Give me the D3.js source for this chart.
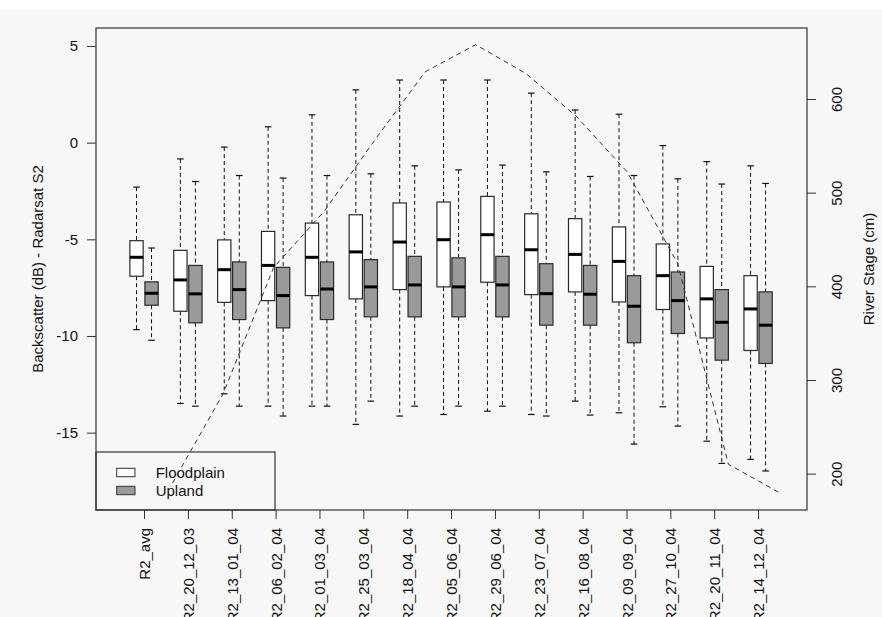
<!DOCTYPE html>
<html>
<head>
<meta charset="utf-8">
<script src="https://cdn.jsdelivr.net/npm/d3@7"></script>
<style>
  body { margin: 0; background: #f7f7f7; }
  text { font-family: "Liberation Sans", Arial, sans-serif; }
</style>
</head>
<body>
<svg id="chart" width="882" height="617"></svg>
<script>
// Acquisition dates (Radarsat-2 scenes) shown along the x axis
const categories = ["R2_avg", "R2_20_12_03", "R2_13_01_04", "R2_06_02_04", "R2_01_03_04",
  "R2_25_03_04", "R2_18_04_04", "R2_05_06_04", "R2_29_06_04", "R2_23_07_04",
  "R2_16_08_04", "R2_09_09_04", "R2_27_10_04", "R2_20_11_04", "R2_14_12_04"];

// Floodplain backscatter (dB): whisker low, Q1, median, Q3, whisker high
const floodLow  = [-9.67, -13.49, -12.99, -13.63, -13.63, -14.57, -14.14, -14.06, -13.89, -14.06, -13.37, -13.97, -13.66, -15.44, -16.38];
const floodQ1   = [-6.91, -8.72, -8.26, -8.17, -7.91, -8.08, -7.60, -7.46, -7.22, -7.86, -7.72, -8.24, -8.63, -10.10, -10.75];
const floodMed  = [-5.93, -7.10, -6.57, -6.35, -5.93, -5.65, -5.14, -5.02, -4.76, -5.54, -5.78, -6.14, -6.88, -8.08, -8.60];
const floodQ3   = [-5.07, -5.57, -5.03, -4.59, -4.16, -3.73, -3.12, -3.07, -2.78, -3.68, -3.93, -4.36, -5.24, -6.40, -6.88];
const floodHigh = [-2.30, -0.84, -0.23, 0.82, 1.44, 2.73, 3.24, 3.24, 3.24, 2.56, 1.69, 1.47, -0.15, -0.98, -1.20];

// Upland backscatter (dB)
const uplandLow  = [-10.22, -13.63, -13.63, -14.14, -13.63, -13.37, -13.63, -13.63, -13.63, -14.14, -14.09, -15.59, -14.66, -16.59, -16.98];
const uplandQ1   = [-8.41, -9.32, -9.15, -9.58, -9.15, -9.01, -9.01, -9.01, -9.01, -9.44, -9.44, -10.35, -9.87, -11.25, -11.42];
const uplandMed  = [-7.79, -7.82, -7.60, -7.91, -7.57, -7.46, -7.36, -7.46, -7.36, -7.81, -7.84, -8.46, -8.17, -9.29, -9.44];
const uplandQ3   = [-7.20, -6.35, -6.17, -6.45, -6.17, -6.05, -5.88, -5.96, -5.88, -6.26, -6.35, -6.88, -6.69, -7.60, -7.72];
const uplandHigh = [-5.45, -2.01, -1.70, -1.83, -1.70, -1.61, -1.20, -1.41, -1.16, -1.51, -1.75, -1.70, -1.87, -2.14, -2.11];

// Monthly river stage (cm)
const stageMonths = ["2003-12", "2004-01", "2004-02", "2004-03", "2004-04", "2004-05", "2004-06",
  "2004-07", "2004-08", "2004-09", "2004-10", "2004-11", "2004-12"];
const stageCm = [190, 285, 420, 480, 556, 629, 658, 627, 581, 522, 424, 210, 180];

const leftTicks = [5, 0, -5, -10, -15];
const rightTicks = [200, 300, 400, 500, 600];
const seriesNames = ["Floodplain", "Upland"];
const seriesFills = ["#ffffff", "#9a9a9a"];

const W = 882, H = 617;
const plot = { left: 96, right: 807, top: 28, bottom: 510 };
const FONT = 15;

const svg = d3.select("#chart");
svg.append("rect").attr("width", W).attr("height", H).attr("fill", "#f7f7f7");
svg.append("rect").attr("width", W).attr("height", 10).attr("fill", "#ffffff");

// Scales
const x = d3.scaleLinear().domain([-1.095, 15.115]).range([plot.left, plot.right]);
const y = d3.scaleLinear().domain([-19.0, 5.93]).range([plot.bottom, plot.top]);
const xStage = d3.scaleLinear().domain([-1.514, 12.556]).range([plot.left, plot.right]);
const yStage = d3.scaleLinear().domain([161.2, 675.8]).range([plot.bottom, plot.top]);

const series = [
  { name: seriesNames[0], fill: seriesFills[0], offset: -0.171,
    low: floodLow, q1: floodQ1, med: floodMed, q3: floodQ3, high: floodHigh },
  { name: seriesNames[1], fill: seriesFills[1], offset: 0.171,
    low: uplandLow, q1: uplandQ1, med: uplandMed, q3: uplandQ3, high: uplandHigh }
];

const boxW = x(0.303) - x(0);
const capW = boxW / 2;

// Boxplots
const gBoxes = svg.append("g");
series.forEach(s => {
  categories.forEach((c, i) => {
    const cx = x(i + s.offset);
    const g = gBoxes.append("g");
    // whiskers
    g.append("line").attr("x1", cx).attr("x2", cx).attr("y1", y(s.high[i])).attr("y2", y(s.q3[i]))
      .attr("stroke", "#111").attr("stroke-width", 1).attr("stroke-dasharray", "4,3");
    g.append("line").attr("x1", cx).attr("x2", cx).attr("y1", y(s.q1[i])).attr("y2", y(s.low[i]))
      .attr("stroke", "#111").attr("stroke-width", 1).attr("stroke-dasharray", "4,3");
    // staples
    [s.high[i], s.low[i]].forEach(v => {
      g.append("line").attr("x1", cx - capW / 2).attr("x2", cx + capW / 2)
        .attr("y1", y(v)).attr("y2", y(v)).attr("stroke", "#111").attr("stroke-width", 1.2);
    });
    // box
    g.append("rect").attr("x", cx - boxW / 2).attr("y", y(s.q3[i]))
      .attr("width", boxW).attr("height", y(s.q1[i]) - y(s.q3[i]))
      .attr("fill", s.fill).attr("stroke", "#2a2a2a").attr("stroke-width", 1.2);
    // median
    g.append("line").attr("x1", cx - boxW / 2).attr("x2", cx + boxW / 2)
      .attr("y1", y(s.med[i])).attr("y2", y(s.med[i]))
      .attr("stroke", "#000").attr("stroke-width", 3);
  });
});

// Legend
const legend = svg.append("g");
legend.append("rect").attr("x", plot.left).attr("y", 452).attr("width", 179).attr("height", plot.bottom - 452)
  .attr("fill", "none").attr("stroke", "#333").attr("stroke-width", 1.2);
series.forEach((s, i) => {
  const cy = 472.5 + 18 * i;
  legend.append("rect").attr("x", 116.7).attr("y", cy - 4.2).attr("width", 18.3).attr("height", 8.4)
    .attr("fill", s.fill).attr("stroke", "#333").attr("stroke-width", 1);
  legend.append("text").attr("x", 155.7).attr("y", cy).attr("dy", "0.35em")
    .attr("font-size", FONT).attr("fill", "#111").text(s.name);
});

// River stage line (secondary axis)
const stageLine = d3.line().x((d, i) => xStage(i)).y(d => yStage(d));
svg.append("path").datum(stageCm).attr("d", stageLine)
  .attr("fill", "none").attr("stroke", "#333").attr("stroke-width", 1)
  .attr("stroke-dasharray", "5,4");

// Plot frame
svg.append("rect").attr("x", plot.left).attr("y", plot.top)
  .attr("width", plot.right - plot.left).attr("height", plot.bottom - plot.top)
  .attr("fill", "none").attr("stroke", "#333").attr("stroke-width", 1.2);

// Left axis
const gLeft = svg.append("g").attr("transform", `translate(${plot.left},0)`)
  .call(d3.axisLeft(y).tickValues(leftTicks).tickSize(9).tickPadding(9).tickFormat(d => String(d)));
gLeft.select(".domain").remove();
gLeft.selectAll(".tick line").attr("stroke", "#333");
gLeft.selectAll(".tick text").attr("font-size", FONT).attr("font-family", null).attr("fill", "#111");

// Right axis
const gRight = svg.append("g").attr("transform", `translate(${plot.right},0)`)
  .call(d3.axisRight(yStage).tickValues(rightTicks).tickSize(9));
gRight.select(".domain").remove();
gRight.selectAll(".tick line").attr("stroke", "#333");
gRight.selectAll(".tick text").attr("font-size", FONT).attr("font-family", null).attr("fill", "#111")
  .attr("x", 0).attr("dy", 0).attr("text-anchor", "middle")
  .attr("transform", "translate(35,0) rotate(-90)");

// Bottom axis
const gBottom = svg.append("g").attr("transform", `translate(0,${plot.bottom})`)
  .call(d3.axisBottom(x).tickValues(d3.range(categories.length)).tickSize(9).tickFormat(i => categories[i]));
gBottom.select(".domain").remove();
gBottom.selectAll(".tick line").attr("stroke", "#333");
gBottom.selectAll(".tick text").attr("font-size", FONT).attr("font-family", null).attr("fill", "#111")
  .attr("x", 0).attr("y", 0).attr("dy", 0).attr("text-anchor", "end")
  .attr("transform", "translate(5.5,18) rotate(-90)");

// Axis titles
svg.append("text").attr("transform", "translate(43,269) rotate(-90)")
  .attr("text-anchor", "middle").attr("font-size", FONT).attr("fill", "#111")
  .text("Backscatter (dB) - Radarsat S2");
svg.append("text").attr("transform", "translate(874,269) rotate(-90)")
  .attr("text-anchor", "middle").attr("font-size", FONT).attr("fill", "#111")
  .text("River Stage (cm)");
</script>
</body>
</html>
